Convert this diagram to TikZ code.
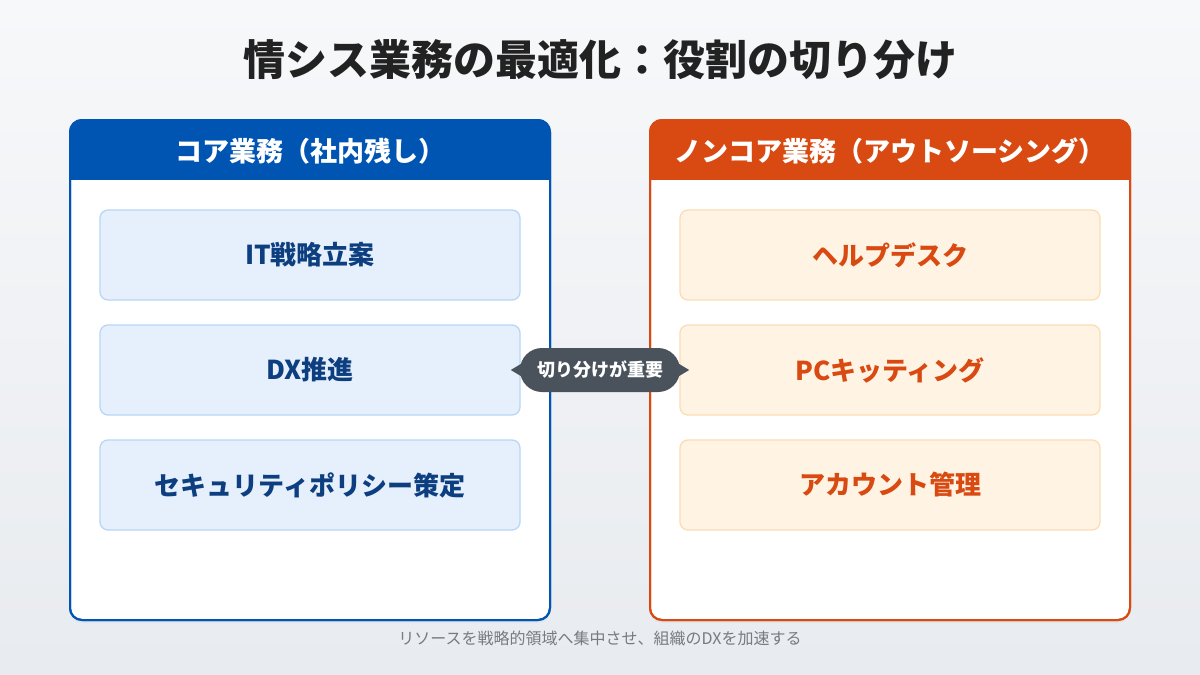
\documentclass[tikz,border=0pt]{standalone}
\usepackage{fontspec}
\setmainfont{Noto Sans CJK JP}
\usetikzlibrary{shadows}
\definecolor{bgtop}{HTML}{F7F8FA}
\definecolor{bgbot}{HTML}{E8EBEF}
\definecolor{titlec}{HTML}{222222}
\definecolor{coreblue}{HTML}{0055B3}
\definecolor{coretext}{HTML}{0D3F80}
\definecolor{corefill}{HTML}{E6F0FD}
\definecolor{coreline}{HTML}{B8D6F6}
\definecolor{ncorange}{HTML}{D84A12}
\definecolor{ncfill}{HTML}{FFF3E3}
\definecolor{ncline}{HTML}{FBDDB4}
\definecolor{pillc}{HTML}{4A525C}
\definecolor{footc}{HTML}{777B80}
\tikzset{
  panel/.style={draw=#1, line width=2pt, fill=white, rounded corners=12pt,
    minimum width=480pt, minimum height=500pt, inner sep=0pt,
    drop shadow={shadow xshift=0pt, shadow yshift=-3pt, opacity=0.06}},
  headtext/.style={text=white, font=\bfseries\fontsize{27}{32}\selectfont},
  itembox/.style={draw=#1, line width=1.3pt, rounded corners=8pt,
    minimum width=420pt, minimum height=90pt, inner sep=0pt},
  coreitem/.style={itembox=coreline, fill=corefill, text=coretext, font=\bfseries\fontsize{26}{30}\selectfont},
  ncitem/.style={itembox=ncline, fill=ncfill, text=ncorange, font=\bfseries\fontsize{26}{30}\selectfont},
}
\begin{document}
\begin{tikzpicture}[x=1pt,y=-1pt]
\shade[top color=bgtop, bottom color=bgbot] (0,0) rectangle (1200,675);
\useasboundingbox (0,0) rectangle (1200,675);
% title
\node[text=titlec, font=\bfseries\fontsize{42}{48}\selectfont] (title) at (600,60) {情シス業務の最適化：役割の切り分け};
% left panel
\node[panel=coreblue] (core) at (310,370) {};
\begin{scope}
\clip[rounded corners=12pt] (70,120) rectangle (550,620);
\fill[coreblue] (70,120) rectangle (550,180);
\end{scope}
\draw[coreblue, line width=2pt, rounded corners=12pt] (70,120) rectangle (550,620);
\node[headtext] (corehead) at (310,151) {コア業務（社内残し）};
% right panel
\node[panel=ncorange] (nc) at (890,370) {};
\begin{scope}
\clip[rounded corners=12pt] (650,120) rectangle (1130,620);
\fill[ncorange] (650,120) rectangle (1130,180);
\end{scope}
\draw[ncorange, line width=2pt, rounded corners=12pt] (650,120) rectangle (1130,620);
\node[headtext] (nchead) at (890,151) {ノンコア業務（アウトソーシング）};
% items
\node[coreitem] (c1) at (310,255) {IT戦略立案};
\node[coreitem] (c2) at (310,370) {DX推進};
\node[coreitem] (c3) at (310,485) {セキュリティポリシー策定};
\node[ncitem] (n1) at (890,255) {ヘルプデスク};
\node[ncitem] (n2) at (890,370) {PCキッティング};
\node[ncitem] (n3) at (890,485) {アカウント管理};
% pill
\node[fill=pillc, text=white, rounded corners=22pt, minimum width=160pt, minimum height=44pt, inner sep=0pt,
  font=\bfseries\fontsize{18}{21}\selectfont] (pill) at (600,370) {切り分けが重要};
\fill[pillc] ([xshift=1pt,yshift=6pt]pill.west) -- ([xshift=-9pt]pill.west) -- ([xshift=1pt,yshift=-6pt]pill.west) -- cycle;
\fill[pillc] ([xshift=-1pt,yshift=6pt]pill.east) -- ([xshift=9pt]pill.east) -- ([xshift=-1pt,yshift=-6pt]pill.east) -- cycle;
% footer
\node[text=footc, font=\fontsize{16}{19}\selectfont] (foot) at (600,638) {リソースを戦略的領域へ集中させ、組織のDXを加速する};
\end{tikzpicture}
\end{document}
